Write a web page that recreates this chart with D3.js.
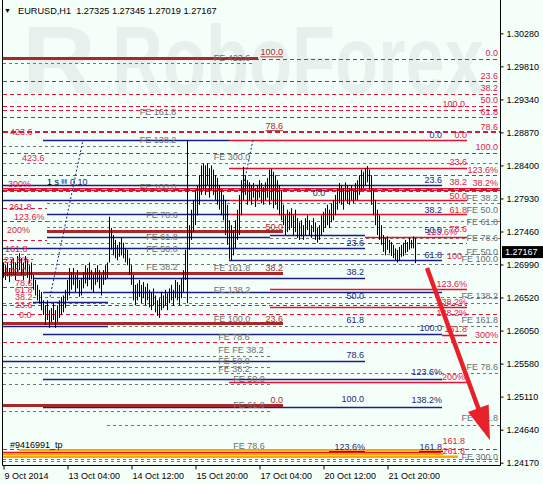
<!DOCTYPE html>
<html><head><meta charset="utf-8">
<script src="https://cdn.jsdelivr.net/npm/d3@7"></script>
<style>body{margin:0;background:#f5fffa}svg text{font-family:"Liberation Sans",Arial,sans-serif}</style>
</head><body><svg id="c" width="543" height="484"></svg>
<script>
// ---------- DATA ----------
const title = "EURUSD,H1  1.27325 1.27345 1.27019 1.27167";
const lastPrice = 1.27167;
const priceTicks = [1.30280,1.29810,1.29340,1.28870,1.28400,1.27930,1.27460,1.26990,1.26520,1.26050,1.25580,1.25110,1.24640,1.24170];
const dateTickIdx = [0,32,64,96,128,160,192];
const dateLabels = ["9 Oct 2014","13 Oct 04:00","14 Oct 12:00","15 Oct 20:00","17 Oct 04:00","20 Oct 12:00","21 Oct 20:00"];

const barHigh = [
1.2702,1.2698,1.2701,1.2694,1.2705,1.2708,1.2702,1.2711,1.2715,1.2708,
1.2702,1.2711,1.2705,1.2698,1.2702,1.2684,1.2677,1.2670,1.2663,1.2660,
1.2648,1.2641,1.2648,1.2634,1.2637,1.2644,1.2634,1.2641,1.2648,1.2653,
1.2655,1.2663,1.2677,1.2694,1.2688,1.2694,1.2684,1.2691,1.2677,1.2680,
1.2688,1.2698,1.2694,1.2702,1.2691,1.2685,1.2694,1.2698,1.2691,1.2684,
1.2691,1.2698,1.2702,1.2767,1.2751,1.2741,1.2734,1.2727,1.2731,1.2737,
1.2730,1.2722,1.2720,1.2708,1.2698,1.2684,1.2670,1.2672,1.2677,1.2670,
1.2674,1.2667,1.2672,1.2663,1.2660,1.2665,1.2655,1.2648,1.2651,1.2660,
1.2655,1.2663,1.2658,1.2665,1.2670,1.2663,1.2677,1.2674,1.2670,1.2680,
1.2691,1.2720,1.2741,1.2755,1.2777,1.2791,1.2805,1.2812,1.2826,1.2840,
1.2843,1.2840,1.2843,1.2836,1.2840,1.2834,1.2826,1.2822,1.2812,1.2805,
1.2798,1.2791,1.2784,1.2762,1.2755,1.2748,1.2762,1.2777,1.2798,1.2819,
1.2838,1.2826,1.2819,1.2816,1.2812,1.2815,1.2808,1.2812,1.2819,1.2815,
1.2809,1.2816,1.2822,1.2834,1.2835,1.2831,1.2826,1.2819,1.2812,1.2805,
1.2784,1.2769,1.2777,1.2774,1.2779,1.2769,1.2777,1.2765,1.2759,1.2762,
1.2755,1.2765,1.2769,1.2762,1.2755,1.2765,1.2759,1.2751,1.2755,1.2769,
1.2774,1.2779,1.2784,1.2777,1.2786,1.2791,1.2798,1.2808,1.2815,1.2812,
1.2808,1.2816,1.2812,1.2808,1.2812,1.2805,1.2815,1.2819,1.2826,1.2834,
1.2831,1.2836,1.2839,1.2834,1.2826,1.2805,1.2791,1.2777,1.2769,1.2755,
1.2741,1.2737,1.2739,1.2734,1.2731,1.2727,1.2722,1.2720,1.2724,1.2727,
1.2730,1.2734,1.2731,1.2737,1.2734,1.2739,1.2737];
const barLow = [
1.2680,1.2677,1.2682,1.2674,1.2682,1.2685,1.2677,1.2688,1.2691,1.2684,
1.2677,1.2691,1.2680,1.2672,1.2678,1.2663,1.2655,1.2648,1.2644,1.2634,
1.2627,1.2613,1.2620,1.2609,1.2617,1.2620,1.2609,1.2617,1.2623,1.2627,
1.2631,1.2637,1.2648,1.2655,1.2663,1.2670,1.2660,1.2665,1.2653,1.2655,
1.2665,1.2672,1.2668,1.2677,1.2663,1.2660,1.2670,1.2674,1.2665,1.2655,
1.2670,1.2677,1.2680,1.2702,1.2720,1.2712,1.2708,1.2705,1.2710,1.2712,
1.2708,1.2702,1.2698,1.2684,1.2670,1.2648,1.2641,1.2648,1.2653,1.2644,
1.2651,1.2641,1.2648,1.2638,1.2634,1.2641,1.2631,1.2626,1.2623,1.2634,
1.2637,1.2641,1.2634,1.2644,1.2648,1.2640,1.2651,1.2648,1.2641,1.2651,
1.2660,1.2677,1.2702,1.2720,1.2734,1.2745,1.2755,1.2769,1.2784,1.2798,
1.2805,1.2798,1.2812,1.2794,1.2805,1.2798,1.2791,1.2784,1.2777,1.2769,
1.2762,1.2741,1.2727,1.2708,1.2705,1.2712,1.2722,1.2734,1.2741,1.2769,
1.2791,1.2798,1.2784,1.2791,1.2784,1.2794,1.2781,1.2791,1.2794,1.2786,
1.2784,1.2791,1.2794,1.2784,1.2791,1.2779,1.2784,1.2777,1.2769,1.2762,
1.2755,1.2741,1.2745,1.2748,1.2751,1.2741,1.2745,1.2737,1.2734,1.2739,
1.2734,1.2741,1.2748,1.2741,1.2737,1.2745,1.2734,1.2730,1.2734,1.2741,
1.2745,1.2751,1.2755,1.2751,1.2759,1.2762,1.2769,1.2777,1.2786,1.2784,
1.2777,1.2791,1.2786,1.2784,1.2791,1.2786,1.2791,1.2791,1.2798,1.2805,
1.2808,1.2812,1.2816,1.2805,1.2784,1.2769,1.2755,1.2741,1.2734,1.2727,
1.2717,1.2712,1.2720,1.2715,1.2711,1.2708,1.2705,1.2702,1.2705,1.2710,
1.2711,1.2715,1.2717,1.2720,1.2722,1.2722,1.2701];

// Fibonacci levels: [price, startBar, endBar]
const redDashed = [
[1.2992,0,248.5],[1.2960,0,248.5],[1.2942,0,248.5],[1.2924,0,248.5],[1.2919,0,248.5],
[1.2909,0,248.5],[1.2858,0,248.5],[1.2826,0,248.5],[1.2804,0,248.5],
[1.2779,0,22],[1.2761,0,22],[1.2734,0,22],[1.2730,133.5,232],[1.2707,0,15],[1.2667,0,15],
[1.2641,0,232],[1.2629,0,248.5],[1.2589,0,248.5],[1.24365,0,248.5]];
const redDashedBold = [[1.2887,0,248.5]];
const greyDashed = [
[1.2986,0,126],[1.2868,0,88.5],[1.2843,0,248.5],[1.2786,22,248.5],[1.2761,22,248.5],
[1.2752,22,232],[1.2730,22,133.5],[1.2737,133.5,248.5],[1.2714,0,248.5],[1.2700,0,248.5],
[1.2653,15,248.5],[1.2644,0,248.5],[1.2612,0,248.5],[1.2569,0,133.5],[1.2553,0,133.5],
[1.2545,0,248.5],[1.2529,0,133.5],[1.2491,0,133.5],[1.2471,52,248.5],[1.24222,0,248.5],[1.24190,0,248.5]];
const navySolid = [
[1.2876,20,113],[1.2812,0,219.5],[1.2791,0,113],[1.2771,22,113],[1.2741,133.5,181],
[1.2738,22,133.5],[1.2722,0,181],[1.2706,113,219.5],[1.2680,15,181],[1.2660,20,219.5],
[1.2646,15,52.5],[1.2612,0,52.5],[1.2600,20,219.5],[1.2562,0,181],[1.2536,20,219.5],
[1.2496,20,219.5],[1.2434,163,181],[1.2434,208,220]];
const redSolid = [
[1.2876,113,232],[1.2836,113,232],[1.2791,113,232],[1.2771,113,232],[1.2738,181,232],
[1.2664,133.5,232],[1.2638,133.5,232],[1.2599,219.5,232],[1.2532,113,232],
[1.24318,0,219],[1.24265,0,227.5]];
const brownThick = [[1.2993,0,127.5],[1.2746,22,140],[1.2687,0,140],[1.2616,0,140],[1.2499,0,140]];
const orangeThick = [[1.24346,8,220],[1.24293,0,220],[1.24247,0,227.5]];
const orderLine = [[1.28065,0,248.5]];
const trendLines = [[23.5,1.2653,40,1.2876],[119.5,1.2801,125,1.2876]];
const verticals = [[92,1.2876,1.2644,"k"],[113,1.2724,1.2706,"n"]];
const forecastArrow = [212,1.2694,243.5,1.2449];

// labels: [text, bar, price, anchor]
const redLabels = [
["0.0",247.5,1.3000,"end"],["23.6",247.5,1.2967,"end"],["38.2",247.5,1.2950,"end"],["50.0",247.5,1.2933,"end"],
["61.8",247.5,1.2916,"end"],["78.6",247.5,1.2895,"end"],["100.0",247.5,1.2866,"end"],["123.6%",247.5,1.2833,"end"],
["38.2%",247.5,1.2815,"end"],["300%",247.5,1.2599,"end"],["100.0",231,1.2927,"end"],["0.0",232,1.2883,"end"],
["23.6",232,1.2845,"end"],["38.2",232,1.2816,"end"],["50.0",232,1.2797,"end"],["61.8",232,1.2777,"end"],
["78.6",232,1.2750,"end"],["123.6%",227,1.2745,"end"],["100",229.5,1.2711,"end"],["123.6%",232,1.2671,"end"],
["38.2%",232,1.2646,"end"],["138.2%",232,1.2630,"end"],["161.8",232,1.2607,"end"],["200%",231,1.2539,"end"],
["161.8",231,1.2448,"end"],["261.8",231,1.2434,"end"],
["423.6",3.5,1.2888,"start"],["423.6",9.5,1.2851,"start"],["300%",2.5,1.2814,"start"],["261.8",3,1.2781,"start"],
["123.6%",5.5,1.2767,"start"],["200%",2,1.2748,"start"],["161.8",1,1.2722,"start"],["23.6%",0.5,1.2705,"start"],
["78.6",6,1.2673,"start"],["61.8",6,1.2663,"start"],["38.2",6,1.2653,"start"],["23.6",6,1.2641,"start"],["0.0",8,1.2627,"start"]];
const brownLabels = [
["100.0",140,1.3001,"end"],["78.6",140,1.2896,"end"],["50.0",140,1.2752,"end"],["38.2",140,1.2694,"end"],
["23.6",140,1.2622,"end"],["0.0",140,1.2506,"end"],["100.0",0.5,1.2690,"start"]];
const navyLabels = [
["0.0",219.5,1.2883,"end"],["23.6",219.5,1.2819,"end"],["38.2",219.5,1.2777,"end"],["50.0",219.5,1.2748,"end"],
["61.8",219.5,1.2713,"end"],["0.0",158,1.2801,"middle"],["23.6",180.5,1.2730,"end"],["38.2",180.5,1.2688,"end"],
["50.0",180.5,1.2654,"end"],["61.8",180.5,1.2620,"end"],["78.6",180.5,1.2570,"end"],["100.0",180.5,1.2508,"end"],
["100.0",219.5,1.2609,"end"],["123.6%",219.5,1.2546,"end"],["138.2%",219.5,1.2506,"end"],
["123.6%",181,1.2439,"end"],["161.8",219.5,1.2439,"end"],["0.10",33.5,1.2817,"start"]];
const greyLabels = [
["FE 38.2",247.5,1.2794,"end"],["FE 50.0",247.5,1.2777,"end"],["FE 61.8",247.5,1.2760,"end"],["FE 78.6",247.5,1.2737,"end"],
["FE 50.0",247.5,1.2717,"end"],["FE 100.0",247.5,1.2707,"end"],["FE 138.2",247.5,1.2654,"end"],["FE 161.8",247.5,1.2620,"end"],
["FE 78.6",247.5,1.2553,"end"],["FE 261.8",247.5,1.2481,"end"],["FE 300.0",247.5,1.2425,"end"],
["FE 423.6",114.5,1.2993,"middle"],["FE 161.8",77.5,1.2916,"middle"],["FE 138.2",77.5,1.2876,"middle"],
["FE 300.0",114.5,1.2852,"middle"],["FE 100.0",77.5,1.2809,"middle"],["FE 78.6",79.5,1.2769,"middle"],
["FE 61.8",79.5,1.2738,"middle"],["FE 50.0",79.5,1.2722,"middle"],["FE 38.2",79.5,1.2695,"middle"],
["FE 161.8",114.5,1.2694,"middle"],["FE 138.2",114.5,1.2663,"middle"],["FE 100.0",114.5,1.2621,"middle"],
["FE 78.6",115.5,1.2596,"middle"],["FE FE 38.2",119,1.2577,"middle"],["FE 50.0",115.5,1.2562,"middle"],
["FE 38.2",115.5,1.2550,"middle"],["FE 50.0",123,1.2536,"middle"],["FE 61.8",123,1.2499,"middle"],["FE 78.6",123,1.2441,"middle"]];
const blackLabels = [["#9416991_tp",3.5,1.2442,"start"],["1 s",22,1.2817,"start"]];
const iconLabels = [["▮▮",29,1.2818,"start"]];

// ---------- DRAW ----------
const svg = d3.select("#c");
const x = d3.scaleLinear().domain([0,248.5]).range([3,500]);
const y = d3.scaleLinear().domain([1.24170,1.30280]).range([462.7,33.3]);
const py = p => Math.round(y(p)) + 0.5;
const px = i => Math.round(x(i)) + 0.5;

svg.append("rect").attr("width",543).attr("height",484).attr("fill","#f5fffa");

// watermark
const wm = svg.append("g").attr("fill","#e7f0ed").attr("font-weight","bold");
wm.append("text").attr("x",22).attr("y",93).attr("font-size",97)
  .attr("textLength",74).attr("lengthAdjust","spacingAndGlyphs").text("R");
wm.append("text").attr("x",112).attr("y",93).attr("font-size",97)
  .attr("textLength",372).attr("lengthAdjust","spacingAndGlyphs").text("RoboForex");

function hlines(data, color, width, dash) {
  svg.append("g").selectAll("line").data(data).join("line")
    .attr("x1", d => x(d[1])).attr("x2", d => x(d[2]))
    .attr("y1", d => width % 2 ? py(d[0]) : Math.round(y(d[0])))
    .attr("y2", d => width % 2 ? py(d[0]) : Math.round(y(d[0])))
    .attr("stroke", color).attr("stroke-width", width)
    .attr("stroke-dasharray", dash || null);
}
hlines(greyDashed, "#757575", 1, "3,3");
hlines(redDashed, "#e0173f", 1, "4,3");
hlines(redDashedBold, "#d81a3a", 2, "5,3");
hlines(navySolid, "#1b1f80", 1.6);
hlines(redSolid, "#e8102f", 1.6);
hlines(brownThick, "#a8282c", 3);
hlines(orangeThick, "#ffa500", 2);
hlines(orderLine, "#e0102f", 3);
hlines(orderLine, "#8fd68f", 1, "5,6");

// trend (dotted) lines
svg.append("g").selectAll("line").data(trendLines).join("line")
  .attr("x1", d => x(d[0])).attr("y1", d => y(d[1])).attr("x2", d => x(d[2])).attr("y2", d => y(d[3]))
  .attr("stroke", "#1b1f80").attr("stroke-width", 1).attr("stroke-dasharray", "2,2");
svg.append("g").selectAll("line").data(verticals).join("line")
  .attr("x1", d => px(d[0])).attr("x2", d => px(d[0])).attr("y1", d => y(d[1])).attr("y2", d => y(d[2]))
  .attr("stroke", d => d[3] === "k" ? "#000" : "#1b1f80").attr("stroke-width", 1);

// price bars
svg.append("g").selectAll("line").data(barHigh.map((h, i) => [i, h, barLow[i]])).join("line")
  .attr("x1", d => px(d[0])).attr("x2", d => px(d[0]))
  .attr("y1", d => y(d[1])).attr("y2", d => y(d[2]))
  .attr("stroke", "#000").attr("stroke-width", 1);

// labels
function labels(data, color, underline, size) {
  svg.append("g").selectAll("text").data(data).join("text")
    .attr("x", d => x(d[1])).attr("y", d => y(d[2])).attr("dy", "0.35em")
    .attr("text-anchor", d => d[3]).attr("font-size", size || 9).attr("fill", color)
    .attr("text-decoration", underline ? "underline" : null)
    .text(d => d[0]);
}
labels(greyLabels, "#6e6e6e");
labels(redLabels, "#e3174a");
labels(brownLabels, "#a8282c", true);
labels(navyLabels, "#1b1f80");
labels(blackLabels, "#000");
labels(iconLabels, "#4a90dc", false, 6);

// forecast arrow
(function () {
  const [i0, p0, i1, p1] = forecastArrow;
  const x0 = x(i0), y0 = y(p0), x1 = x(i1), y1 = y(p1);
  const dx = x1 - x0, dy = y1 - y0, L = Math.hypot(dx, dy), ux = dx / L, uy = dy / L;
  const hl = 34, hw = 11;
  const bx = x1 - ux * hl, by = y1 - uy * hl;
  svg.append("line").attr("x1", x0).attr("y1", y0).attr("x2", bx + ux * 4).attr("y2", by + uy * 4)
    .attr("stroke", "#e8202a").attr("stroke-width", 4.5);
  svg.append("path").attr("fill", "#e8202a")
    .attr("d", `M${x1},${y1}L${bx - uy * hw},${by + ux * hw}L${bx + uy * hw},${by - ux * hw}Z`);
})();

// frame
svg.append("path").attr("d", "M2.5,0V465.5H500.5V0").attr("fill", "none").attr("stroke", "#000").attr("stroke-width", 1);

// axes
const yAxis = d3.axisRight(y).tickValues(priceTicks).tickSize(3).tickPadding(3).tickFormat(d3.format(".5f"));
const gy = svg.append("g").attr("transform", "translate(500.5,0)").call(yAxis);
gy.select(".domain").remove();
gy.selectAll("line").attr("stroke", "#000");
gy.selectAll("text").attr("font-size", 9).attr("fill", "#000").attr("font-family", "Liberation Sans, Arial");

const xAxis = d3.axisBottom(x).tickValues(dateTickIdx).tickSize(4).tickPadding(3).tickFormat((d, i) => dateLabels[i]);
const gx = svg.append("g").attr("transform", "translate(0.5,465.5)").call(xAxis);
gx.select(".domain").remove();
gx.selectAll("line").attr("stroke", "#000");
gx.selectAll("text").attr("font-size", 9).attr("fill", "#000").attr("text-anchor", "start").attr("dx", 0.5)
  .attr("font-family", "Liberation Sans, Arial");

// current price tag
svg.append("rect").attr("x", 502).attr("y", y(lastPrice) - 6).attr("width", 41).attr("height", 12).attr("fill", "#000");
svg.append("text").attr("x", 505).attr("y", y(lastPrice)).attr("dy", "0.35em").attr("font-size", 9)
  .attr("fill", "#fff").text(d3.format(".5f")(lastPrice));

// title
svg.append("text").attr("x", 4).attr("y", 13).attr("font-size", 7).attr("fill", "#000").text("▼");
svg.append("text").attr("x", 18).attr("y", 14).attr("font-size", 9.2).attr("fill", "#000")
  .style("white-space", "pre").text(title);
</script></body></html>
